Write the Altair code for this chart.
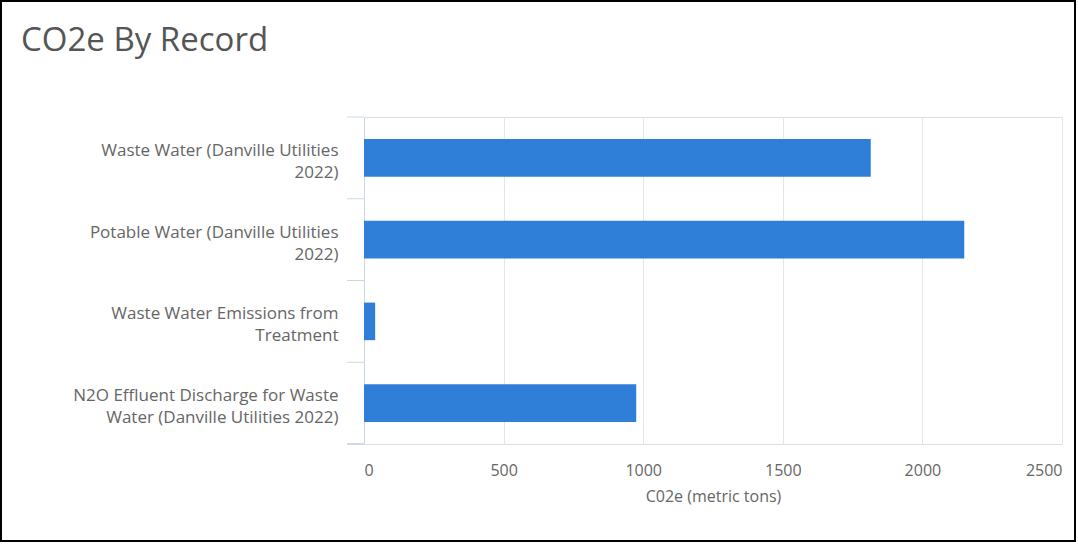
import altair as alt
import pandas as pd

categories = [
    "Waste Water (Danville Utilities\n2022)",
    "Potable Water (Danville Utilities\n2022)",
    "Waste Water Emissions from\nTreatment",
    "N2O Effluent Discharge for Waste\nWater (Danville Utilities 2022)",
]
values = [1815, 2150, 40, 975]
x_ticks = [0, 500, 1000, 1500, 2000, 2500]

df = pd.DataFrame({"record": categories, "co2e": values})

W, H = 698, 327
PAD_L, PAD_T = 364, 117
FONT = "Open Sans"
TICK_LEN = 17
AXIS_GREY = "#ccd6eb"
P_INNER, P_OUTER = 0.54, 0.27
STEP = H / (len(categories) - P_INNER + 2 * P_OUTER)
BOUNDARY_SHIFT = P_INNER * STEP / 2

yscale = alt.Scale(paddingInner=P_INNER, paddingOuter=P_OUTER)

bars = alt.Chart(df).mark_bar(color="#2f7ed8").encode(
    y=alt.Y(
        "record:N",
        sort=categories,
        title=None,
        scale=yscale,
        axis=alt.Axis(
            labelExpr="split(datum.value, '\\n')",
            labelFont=FONT,
            labelFontSize=17,
            labelColor="#666666",
            labelLineHeight=22,
            labelPadding=TICK_LEN + 9,
            labelOffset=-7,
            labelLimit=400,
            ticks=False,
            domainColor=AXIS_GREY,
            grid=False,
        ),
    ),
    x=alt.X(
        "co2e:Q",
        title="C02e (metric tons)",
        scale=alt.Scale(domain=[0, 2500], nice=False),
        axis=alt.Axis(
            values=x_ticks,
            format="d",
            labelFont=FONT,
            labelFontSize=16,
            labelColor="#666666",
            labelPadding=18,
            ticks=False,
            domain=False,
            grid=True,
            gridColor="#e6e6e6",
            titleFont=FONT,
            titleFontSize=16,
            titleFontWeight="normal",
            titleColor="#666666",
            titlePadding=10,
        ),
    ),
)

# category-boundary tick marks on the y axis
ticks = alt.Chart(df).mark_rule(color=AXIS_GREY, yOffset=-BOUNDARY_SHIFT).encode(
    y=alt.Y("record:N", sort=categories, bandPosition=0, scale=yscale),
    x=alt.value(-TICK_LEN),
    x2=alt.value(0),
)
end_tick = alt.Chart(df).mark_rule(color=AXIS_GREY).encode(
    y=alt.value(H), x=alt.value(-TICK_LEN), x2=alt.value(0),
)

frame = alt.Chart(df).mark_rect(fill=None, stroke="#000000", strokeWidth=2).encode(
    x=alt.value(-PAD_L + 1), x2=alt.value(1075 - PAD_L),
    y=alt.value(-PAD_T + 1), y2=alt.value(541 - PAD_T),
)

chart = alt.layer(bars, ticks, end_tick, frame).properties(
    width=W,
    height=H,
    autosize=alt.AutoSizeParams(type="none"),
    padding={"left": PAD_L, "top": PAD_T, "right": 1078 - PAD_L - W, "bottom": 544 - PAD_T - H},
    title=alt.TitleParams(
        "CO2e By Record",
        anchor="start",
        frame="group",
        font="Open Sans",
        fontSize=33,
        fontWeight="normal",
        color="#555555",
        dx=-343,
        dy=58,
        offset=0,
    ),
).configure_view(stroke=None).configure(background="white")

chart.save("out.html", embed_options={"renderer": "svg", "actions": False})
